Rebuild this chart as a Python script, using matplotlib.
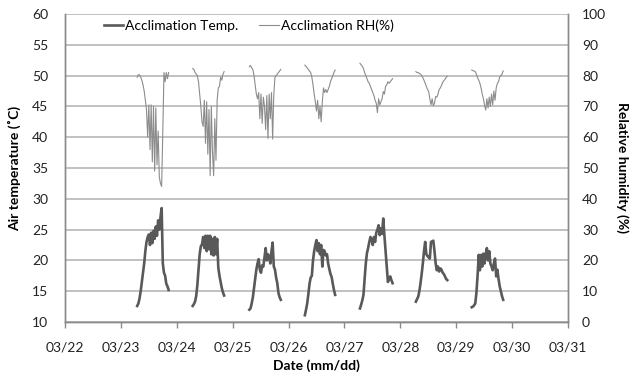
import numpy as np
import pandas as pd
import matplotlib
matplotlib.use("Agg")
import matplotlib.pyplot as plt
import matplotlib.dates as mdates

plt.rcParams['font.family'] = ['Lato', 'DejaVu Sans']

# start time of each daily record, 30-minute sampling
day_starts = ["2012-03-23 07:00", "2012-03-24 06:50", "2012-03-25 07:10",
              "2012-03-26 07:00", "2012-03-27 06:40", "2012-03-28 06:40",
              "2012-03-29 06:40"]

temp_days = [
    [12.6, 13.0, 13.8, 15.0, 16.5, 18.0, 19.5, 21.5, 23.0, 23.8, 24.2, 22.5, 24.5, 22.8,
     24.8, 23.5, 25.5, 24.0, 26.5, 25.0, 27.0, 28.5, 19.5, 18.0, 17.5, 16.2, 15.8, 15.2],
    [12.6, 12.9, 13.3, 14.2, 16.0, 18.5, 21.0, 22.3, 22.6, 23.8, 22.0, 24.0, 21.5, 24.0,
     21.8, 24.0, 21.0, 23.5, 20.8, 23.8, 21.0, 23.5, 18.8, 17.5, 16.5, 15.5, 14.8, 14.3],
    [12.0, 12.2, 13.0, 14.0, 15.5, 17.0, 18.5, 19.5, 20.2, 18.5, 18.0, 19.2, 19.0, 20.5,
     22.0, 20.0, 21.0, 20.5, 19.5, 21.5, 22.9, 19.0, 18.5, 17.2, 16.3, 14.7, 14.0, 13.6],
    [11.1, 12.0, 13.0, 14.5, 16.2, 17.2, 17.5, 20.0, 21.5, 22.5, 23.3, 21.5, 22.8, 21.0,
     22.5, 19.0, 21.7, 21.5, 20.8, 21.0, 19.5, 18.6, 17.8, 17.3, 16.2, 15.2, 14.4],
    [12.2, 12.8, 13.5, 14.4, 17.0, 19.5, 21.2, 22.0, 23.0, 23.8, 23.3, 22.5, 23.8, 23.0,
     24.5, 25.0, 25.7, 24.1, 25.2, 24.3, 26.8, 24.0, 21.5, 19.0, 16.5, 17.0, 17.4, 16.8, 16.3],
    [13.3, 13.7, 14.1, 15.0, 16.3, 17.8, 19.5, 21.5, 23.0, 21.0, 20.7, 20.5, 20.3, 23.0,
     23.1, 23.2, 21.5, 19.5, 18.4, 19.0, 18.2, 18.7, 18.5, 18.0, 17.8, 17.4, 17.0, 16.8],
    [12.4, 12.5, 12.7, 13.0, 14.7, 17.5, 20.9, 18.4, 20.9, 19.0, 21.1, 19.5, 21.0, 22.0,
     20.0, 21.5, 19.5, 19.0, 18.4, 19.5, 20.3, 17.4, 18.5, 17.0, 15.8, 15.0, 14.2, 13.6],
]

rh_days = [
    [79.5, 80.3, 80.2, 79.5, 78.5, 77.0, 75.0, 72.0, 69.0, 60.0, 70.5, 56.0, 70.5, 52.0,
     70.0, 49.0, 69.5, 51.0, 62.0, 47.0, 45.0, 44.0, 62.0, 81.0, 78.0, 81.0, 79.0, 81.0],
    [82.3, 82.0, 81.0, 80.5, 80.0, 78.0, 74.0, 70.0, 65.0, 63.5, 72.0, 58.0, 71.5, 54.5,
     69.0, 47.5, 70.0, 55.0, 47.5, 66.0, 52.5, 72.0, 76.0, 76.5, 79.5, 78.5, 80.5, 81.3],
    [82.9, 83.3, 82.5, 82.0, 80.0, 77.0, 74.0, 72.5, 74.5, 66.0, 74.0, 64.5, 73.0, 70.0,
     62.5, 73.5, 59.6, 74.0, 66.0, 74.5, 59.4, 74.0, 79.5, 80.0, 80.5, 81.0, 81.5, 82.0],
    [83.4, 83.0, 82.5, 82.0, 81.5, 81.0, 79.5, 77.0, 74.0, 71.5, 68.5, 72.0, 66.0, 70.0,
     65.0, 71.5, 76.0, 74.5, 75.5, 74.5, 75.5, 76.5, 78.0, 79.0, 80.0, 81.0, 81.8],
    [84.0, 83.5, 83.0, 82.3, 81.0, 80.0, 79.0, 78.0, 77.5, 76.5, 75.5, 74.5, 73.5, 72.0,
     71.0, 68.0, 72.5, 70.5, 71.5, 72.5, 74.8, 74.0, 76.5, 77.0, 78.0, 77.5, 78.0, 78.5, 79.0],
    [81.3, 81.0, 81.0, 80.7, 80.5, 80.0, 79.3, 78.5, 77.5, 76.5, 75.5, 74.8, 72.5, 70.5,
     72.5, 70.2, 71.0, 73.2, 73.0, 74.0, 75.5, 76.0, 76.8, 77.8, 78.3, 78.8, 79.4, 79.8],
    [81.8, 81.6, 81.5, 81.3, 80.5, 79.3, 78.5, 77.5, 76.0, 74.0, 72.5, 70.5, 68.8, 72.5,
     69.5, 73.0, 70.0, 74.0, 70.5, 75.0, 72.0, 76.0, 77.5, 78.0, 79.5, 80.0, 80.5, 81.5],
]

temp_color = '#595959'
rh_color = '#8c8c8c'
grid_color = '#b0b0b0'
axis_color = '#8a8a8a'

fig = plt.figure(figsize=(6.43, 3.83), dpi=100)
ax = fig.add_axes([65 / 643, 61 / 383, 503 / 643, 308 / 383])
ax2 = ax.twinx()

for i, start in enumerate(day_starts):
    t = pd.date_range(start, periods=len(temp_days[i]), freq='30min')
    ax.plot(t, temp_days[i], color=temp_color, lw=1.9, solid_joinstyle='round',
            label='Acclimation Temp.' if i == 0 else None, zorder=3)
    t2 = pd.date_range(start, periods=len(rh_days[i]), freq='30min')
    ax2.plot(t2, rh_days[i], color=rh_color, lw=0.8,
             label='Acclimation RH(%)' if i == 0 else None, zorder=3)

ax.set_xlim(pd.Timestamp('2012-03-22'), pd.Timestamp('2012-03-31'))
ax.set_ylim(10, 60)
ax.set_yticks(np.arange(10, 61, 5))
ax2.set_ylim(0, 100)
ax2.set_yticks(np.arange(0, 101, 10))

ax.xaxis.set_major_locator(mdates.DayLocator())
ax.xaxis.set_major_formatter(mdates.DateFormatter('%m/%d'))

ax.yaxis.grid(True, color=grid_color, lw=1.1)
ax.set_axisbelow(True)

for a in (ax, ax2):
    for s in a.spines.values():
        s.set_color(axis_color)
        s.set_linewidth(1.0)
    a.spines['top'].set_visible(False)

ax.tick_params(axis='y', length=0, pad=12, labelsize=10, labelcolor='#222222')
ax2.tick_params(axis='y', length=0, pad=10, labelsize=10, labelcolor='#222222')
ax.tick_params(axis='x', length=4, width=1, color=axis_color, pad=10,
               labelsize=10, labelcolor='#222222')

ax.set_ylabel('Air temperature (\u02daC)', fontsize=10, fontweight='bold', labelpad=8)
ax2.set_ylabel('Relative humidity (%)', fontsize=10, fontweight='bold',
               rotation=270, labelpad=16)
ax.set_xlabel('Date (mm/dd)', fontsize=10, fontweight='bold', labelpad=4)

h1, l1 = ax.get_legend_handles_labels()
h2, l2 = ax2.get_legend_handles_labels()
ax.legend(h1 + h2, l1 + l2, loc='upper left', bbox_to_anchor=(0.06, 1.01),
          ncol=2, frameon=False, fontsize=10, handlelength=1.4,
          handletextpad=0.15, columnspacing=1.5, borderaxespad=0.2)

fig.savefig('out.png', dpi=100)
